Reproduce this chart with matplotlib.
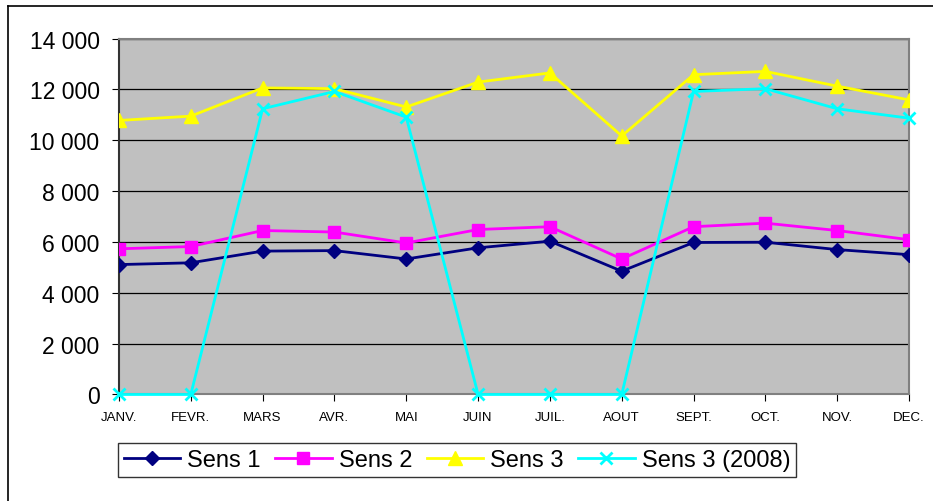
import matplotlib.pyplot as plt
import matplotlib.ticker as mticker
from matplotlib.lines import Line2D

plt.rcParams['font.family'] = ['Liberation Sans', 'DejaVu Sans']

months = ['JANV.', 'FEVR.', 'MARS', 'AVR.', 'MAI', 'JUIN', 'JUIL.', 'AOUT',
          'SEPT.', 'OCT.', 'NOV.', 'DEC.']

sens1 = [5110, 5180, 5640, 5660, 5330, 5770, 6030, 4850, 5980, 5990, 5700, 5500]
sens2 = [5730, 5820, 6450, 6390, 5960, 6490, 6600, 5330, 6600, 6740, 6450, 6090]
sens3 = [10780, 10950, 12060, 12030, 11310, 12290, 12650, 10170, 12580, 12710, 12130, 11590]
sens3_2008 = [0, 0, 11240, 11920, 10910, 0, 0, 0, 11920, 12030, 11240, 10870]

fig = plt.figure(figsize=(9.33, 5.02), dpi=100)
ax = fig.add_axes([0.1275, 0.2122, 0.8468, 0.7089])
ax.set_facecolor('#C0C0C0')

x = range(len(months))
ax.plot(x, sens1, color='#000080', lw=2, marker='D', ms=7, label='Sens 1', zorder=3)
ax.plot(x, sens2, color='#FF00FF', lw=2, marker='s', ms=9, label='Sens 2', zorder=3)
ax.plot(x, sens3, color='#FFFF00', lw=2, marker='^', ms=10, label='Sens 3', zorder=3)
ax.plot(x, sens3_2008, color='#00FFFF', lw=2, marker='x', ms=9, mew=2,
        label='Sens 3 (2008)', zorder=4, clip_on=False)

ax.set_xlim(0, 11)
ax.set_ylim(0, 14000)
ax.set_yticks(range(0, 14001, 2000))
ax.yaxis.set_major_formatter(mticker.FuncFormatter(
    lambda v, p: f'{int(v):,}'.replace(',', ' ')))
ax.set_xticks(list(x))
ax.set_xticklabels(months, fontsize=9.5)
ax.tick_params(axis='y', labelsize=16.5, length=5, direction='out', pad=9)
ax.tick_params(axis='x', length=5, direction='out', pad=7)
ax.grid(axis='y', color='black', lw=0.9)
ax.set_axisbelow(True)

for side in ['top', 'right', 'bottom']:
    ax.spines[side].set_color('#808080')
    ax.spines[side].set_linewidth(1.5)
ax.spines['left'].set_color('#333333')
ax.spines['left'].set_linewidth(1.5)

leg = fig.legend(loc='center', bbox_to_anchor=(457 / 933, 1 - 461 / 502), ncol=4,
                 fontsize=17, frameon=True, fancybox=False, edgecolor='black',
                 handlelength=2.4, handletextpad=0.3, columnspacing=0.6,
                 borderpad=0.25, borderaxespad=0)
leg.get_frame().set_linewidth(1)

# chart border, only top and left edges are visible in the picture
fig.add_artist(Line2D([8 / 933, 1], [1 - 7 / 502, 1 - 7 / 502],
                      transform=fig.transFigure, color='black', lw=1.2))
fig.add_artist(Line2D([8 / 933, 8 / 933], [0, 1 - 7 / 502],
                      transform=fig.transFigure, color='black', lw=1.2))

fig.savefig('out.png', dpi=100)
